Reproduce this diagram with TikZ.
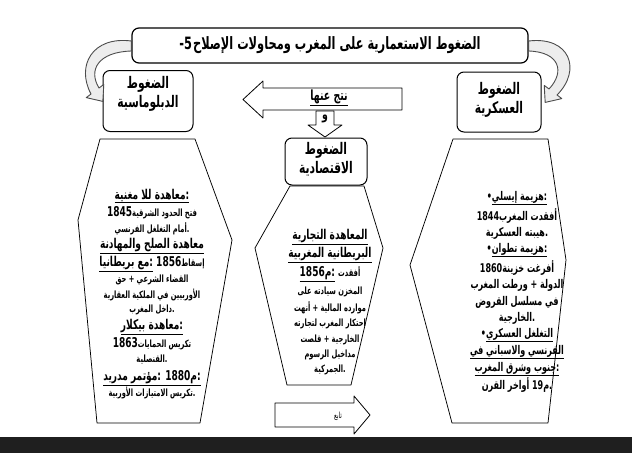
\documentclass[tikz,border=0pt]{standalone}
\usepackage{fontspec}
\TeXXeTstate=1
\newfontfamily\ar[Script=Arabic,FakeStretch=0.67]{DejaVu Sans}
\newcommand{\rtl}[1]{\beginR#1\endR}
\newcommand{\sm}{\fontsize{10}{11}\selectfont}
\begin{document}
\begin{tikzpicture}[x=1pt,y=-1pt,line join=round,
 rbox/.style={draw,rounded corners=7pt,line width=1pt,fill=white,inner sep=0pt},
 hexa/.style={draw,line width=0.75pt},
 blockarrow/.style={draw,line width=0.8pt,fill=white},
 curvearrow/.style={draw=black!70,line width=0.9pt,fill=black!7},
 boxtxt/.style={font=\ar\bfseries\fontsize{16}{19}\selectfont,align=center,inner sep=0pt},
 rt/.style={font=\ar\bfseries\fontsize{12}{13}\selectfont,inner sep=0pt},
 hd/.style={font=\ar\bfseries\fontsize{13.5}{14}\selectfont,inner sep=0pt},
 sb/.style={font=\ar\bfseries\fontsize{10}{11}\selectfont,inner sep=0pt},
]
\useasboundingbox (0,0) rectangle (632,453);
\fill[white] (0,0) rectangle (632,453);
\fill[black!88] (0,437) rectangle (632,453);

% title
\node[rbox,line width=1.2pt,minimum width=396pt,minimum height=35pt,font=\ar\bfseries\fontsize{17}{19}\selectfont] (title) at (330,45.5)
  {5-\kern1pt\rtl{الضغوط الاستعمارية على المغرب ومحاولات الإصلاح}};

% boxes
\node[rbox,minimum width=90pt,minimum height=61pt] (dip) at (148,101) {};
\node[boxtxt] (diptxt) at (148,94) {\rtl{الضغوط}\\\rtl{الدبلوماسية}};
\node[rbox,minimum width=84pt,minimum height=60pt] (mil) at (499,102) {};
\node[boxtxt] (miltxt) at (499,100) {\rtl{الضغوط}\\\rtl{العسكرية}};

% curved arrows
\coordinate (lt) at (102.8,101.4);
\coordinate (rtp) at (545.2,102.4);
\draw[curvearrow] (title.west |- 0,41) .. controls (92,36) and (76,66) .. (91,94)
  -- (86.2,97.6) -- (lt) -- (103.8,84.4) -- (99,88)
  .. controls (88,70) and (98,52) .. (title.west |- 0,51) -- cycle;
\draw[curvearrow] (title.east |- 0,41) .. controls (570,36) and (582,70) .. (557,95)
  -- (561.8,98.6) -- (rtp) -- (544.2,85.4) -- (549,89)
  .. controls (565,72) and (560,52) .. (title.east |- 0,51) -- cycle;

% big left arrow
\draw[blockarrow] (402,88) -- (263,88) -- (263,81) -- (243,99.5) -- (263,118) -- (263,110) -- (402,110) -- cycle;
\node[font=\ar\bfseries\fontsize{14}{15}\selectfont,inner sep=0pt] (nt) at (329,98) {\underline{\rtl{نتج عنها}}};
% down arrow
\draw[blockarrow] (316,111) -- (334,111) -- (334,125) -- (342,125) -- (325,137) -- (308,125) -- (316,125) -- cycle;
\node[font=\ar\bfseries\fontsize{14}{15}\selectfont,inner sep=0pt] (wa) at (325,119) {\rtl{و}};

% middle box
\node[rbox,minimum width=82pt,minimum height=47pt] (eco) at (326,161.5) {};
\node[boxtxt] (ecotxt) at (326,159) {\rtl{الضغوط}\\\rtl{الاقتصادية}};

% hexagons
\draw[hexa] (100,139) -- (195,139) -- (232,240) -- (200,423) -- (97,423) -- (78,220) -- cycle;
\draw[hexa] (290,186) -- (364,186) -- (383,248) -- (351,385) -- (287,385) -- (255,248) -- cycle;
\draw[hexa] (453,139) -- (548,139) -- (566,260) -- (548,423) -- (452,423) -- (410,265) -- cycle;

% right hexagon text
\node[rt] (r1) at (517,198) {•\underline{\rtl{هزيمة إيسلي}:}};
\node[rt] (r2) at (517,216) {1844\rtl{أفقدت المغرب}};
\node[rt] (r3) at (517,233) {\rtl{هيبته العسكرية}.};
\node[rt] (r4) at (517,250) {•\underline{\rtl{هزيمة تطوان}:}};
\node[rt] (r5) at (517,268) {1860\rtl{أفرغت خزينة}};
\node[rt] (r6) at (517,285) {\rtl{الدولة + ورطت المغرب}};
\node[rt] (r7) at (517,302) {\rtl{في مسلسل القروض}};
\node[rt] (r8) at (517,318) {\rtl{الخارجية}.};
\node[rt] (r9) at (517,335) {•\underline{\rtl{التغلغل العسكري}}};
\node[rt] (r10) at (517,352) {\underline{\rtl{الفرنسي والاسباني في}}};
\node[rt] (r11) at (517,369) {\underline{\rtl{جنوب وشرق المغرب}:}};
\node[rt] (r12) at (517,385) {\rtl{أواخر القرن} 19\rtl{م}.};

% left hexagon text
\node[hd] (l1) at (152,196) {\underline{\rtl{معاهدة للا مغنية}:}};
\node[hd] (l2) at (152,213) {1845{\sm\rtl{فتح الحدود الشرقية}}};
\node[sb] (l3) at (152,229) {\rtl{أمام التغلغل الفرنسي}.};
\node[hd] (l4) at (152,246) {\underline{\rtl{معاهدة الصلح والمهادنة}}};
\node[hd] (l5) at (152,264) {\underline{\rtl{مع بريطانيا}:} 1856{\sm\rtl{إسقاط}}};
\node[sb] (l6) at (152,280) {\rtl{القضاء الشرعي + حق}};
\node[sb] (l7) at (152,295) {\rtl{الأوربيين في الملكية العقارية}};
\node[sb] (l8) at (152,310) {\rtl{داخل المغرب}.};
\node[hd] (l9) at (152,327) {\underline{\rtl{معاهدة بيكلار}:}};
\node[hd] (l10) at (152,344) {1863{\sm\rtl{تكريس الحمايات}}};
\node[sb] (l11) at (152,360) {\rtl{القنصلية}.};
\node[hd] (l12) at (152,378) {\underline{\rtl{مؤتمر مدريد}: 1880\rtl{م}:}};
\node[sb] (l13) at (152,393) {\rtl{تكريس الامتيازات الأوربية}.};

% middle hexagon text
\node[hd] (m1) at (330,237) {\underline{\rtl{المعاهدة التجارية}}};
\node[hd] (m2) at (330,255) {\underline{\rtl{البريطانية المغربية}}};
\node[hd] (m3) at (330,274) {\underline{1856\rtl{م}:} {\sm\rtl{أفقدت}}};
\node[sb] (m4) at (330,292) {\rtl{المخزن سيادته على}};
\node[sb] (m5) at (330,308) {\rtl{موارده المالية + أنهت}};
\node[sb] (m6) at (330,324) {\rtl{احتكار المغرب لتجارته}};
\node[sb] (m7) at (330,340) {\rtl{الخارجية + قلصت}};
\node[sb] (m8) at (330,355) {\rtl{مداخيل الرسوم}};
\node[sb] (m9) at (330,370) {\rtl{الجمركية}.};

% continue arrow
\draw[blockarrow] (275,403) -- (354,403) -- (354,396) -- (370,415) -- (354,434) -- (354,427) -- (275,427) -- cycle;
\node[font=\ar\fontsize{8.5}{9}\selectfont,inner sep=0pt] (next) at (338,416) {\rtl{تابع}};
\end{tikzpicture}
\end{document}
